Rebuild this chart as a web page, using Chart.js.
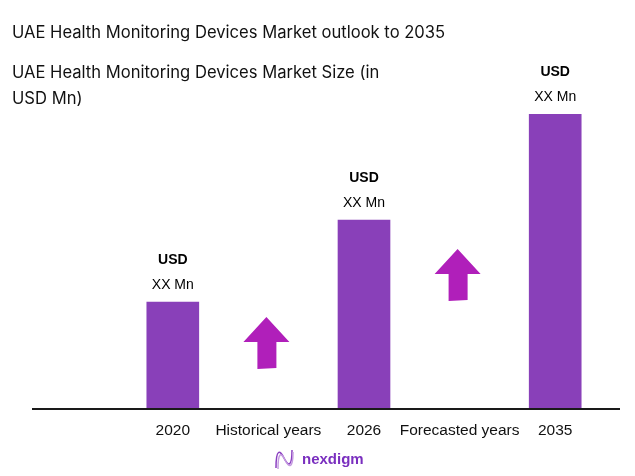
<!DOCTYPE html>
<html>
<head>
<meta charset="utf-8">
<style>
  html, body { margin: 0; padding: 0; background: #fff; }
  #wrap { width: 635px; height: 476px; position: relative; }
</style>
</head>
<body>
<div id="wrap">
  <canvas id="marketChart" width="635" height="476"></canvas>
</div>

<script src="https://cdn.jsdelivr.net/npm/chart.js"></script>
<script>
// chart data
const categories = ['2020', 'Historical years', '2026', 'Forecasted years', '2035'];
const marketSize = [107, null, 189, null, 295];     // relative bar heights (values hidden as XX)
const valueLabels = ['XX Mn', '', 'XX Mn', '', 'XX Mn'];
const arrowBase = [null, 41, null, 109, null];      // growth arrows in the gap slots
const arrowTip = [null, 92, null, 160, null];

const titleText = 'UAE Health Monitoring Devices Market outlook to 2035';
const subtitleLines = ['UAE Health Monitoring Devices Market Size (in', 'USD Mn)'];

const barColor = '#8940b9';
const arrowColor = '#b01fba';

// draws the headings, labels above bars, arrows, baseline and logo
const decorPlugin = {
  id: 'decor',
  afterDraw(chart) {
    const ctx = chart.ctx;
    const x = chart.scales.x, y = chart.scales.y;
    ctx.save();

    // headings
    ctx.fillStyle = '#111';
    ctx.textBaseline = 'middle';
    ctx.textAlign = 'left';
    ctx.font = '16.6px Inter, "Noto Sans", sans-serif';
    ctx.fillText(titleText, 12, 33);
    subtitleLines.forEach((l, i) => ctx.fillText(l, 12, 73 + i * 26));

    // baseline
    ctx.strokeStyle = '#1a1a1a';
    ctx.lineWidth = 2;
    ctx.beginPath();
    ctx.moveTo(32, y.getPixelForValue(0));
    ctx.lineTo(620, y.getPixelForValue(0));
    ctx.stroke();

    // value labels
    ctx.textAlign = 'center';
    marketSize.forEach((v, i) => {
      if (v == null) return;
      const px = x.getPixelForValue(i);
      const top = y.getPixelForValue(v);
      ctx.fillStyle = '#000';
      ctx.font = 'bold 14px "Liberation Sans", Arial, sans-serif';
      ctx.fillText('USD', px, top - 42);
      ctx.font = '14px "Liberation Sans", Arial, sans-serif';
      ctx.fillText(valueLabels[i], px, top - 17);
    });

    // arrows
    ctx.fillStyle = arrowColor;
    arrowTip.forEach((t, i) => {
      if (t == null) return;
      const cx = x.getPixelForValue(i) - 2;
      const yt = y.getPixelForValue(t);
      const yb = y.getPixelForValue(arrowBase[i]);
      const yh = yt + 25;
      ctx.beginPath();
      ctx.moveTo(cx, yt);
      ctx.lineTo(cx + 23, yh);
      ctx.lineTo(cx + 10, yh);
      ctx.lineTo(cx + 10, yb);
      ctx.lineTo(cx - 9, yb + 1);
      ctx.lineTo(cx - 9, yh);
      ctx.lineTo(cx - 23, yh);
      ctx.closePath();
      ctx.fill();
    });

    // logo
    ctx.strokeStyle = '#8a3fc0';
    ctx.lineWidth = 1.5;
    ctx.beginPath();
    ctx.moveTo(276, 468);
    ctx.bezierCurveTo(276, 448, 280, 450, 284, 458);
    ctx.bezierCurveTo(288, 466, 292, 468, 292, 450);
    ctx.stroke();
    ctx.strokeStyle = '#c59be0';
    ctx.beginPath();
    ctx.moveTo(278, 469);
    ctx.bezierCurveTo(278, 452, 281, 452, 285, 460);
    ctx.bezierCurveTo(289, 468, 293, 469, 293, 452);
    ctx.stroke();
    ctx.fillStyle = '#7a2fbf';
    ctx.textAlign = 'left';
    ctx.font = 'bold 15px "Liberation Sans", Arial, sans-serif';
    ctx.fillText('nexdigm', 302, 460);

    ctx.restore();
  }
};

new Chart(document.getElementById('marketChart'), {
  type: 'bar',
  data: {
    labels: categories,
    datasets: [{
      data: marketSize,
      backgroundColor: barColor,
      barThickness: 52,
      borderWidth: 0
    }]
  },
  options: {
    responsive: false,
    animation: false,
    layout: { padding: { left: 125, right: 32, top: 114, bottom: 27 } },
    plugins: {
      legend: { display: false },
      tooltip: { enabled: false }
    },
    scales: {
      x: {
        grid: { display: false, drawTicks: false },
        border: { display: false },
        ticks: {
          color: '#111',
          padding: 12,
          maxRotation: 0,
          minRotation: 0,
          autoSkip: false,
          font: { family: '"Liberation Sans", Arial, sans-serif', size: 15.5 }
        },
        afterFit: s => { s.height = 40; }
      },
      y: {
        display: false,
        min: 0,
        max: 295
      }
    }
  },
  plugins: [decorPlugin]
});
</script>
</body>
</html>
